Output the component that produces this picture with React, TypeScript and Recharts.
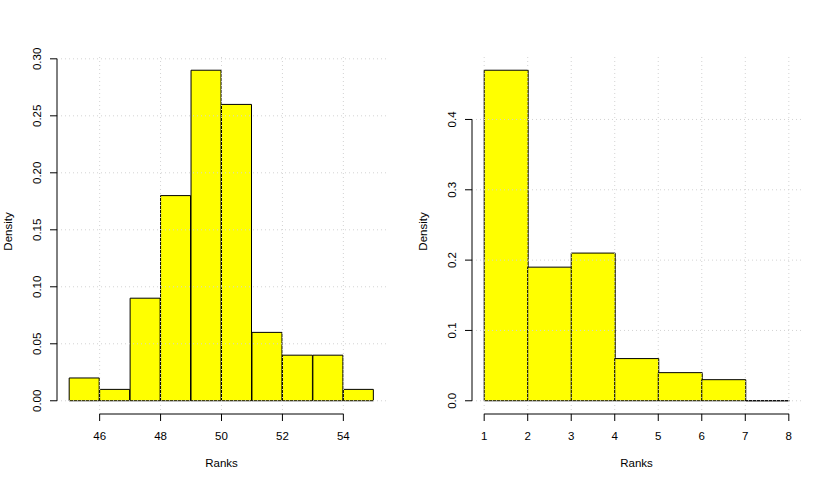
import React from 'react';
import {
  ComposedChart,
  Bar,
  XAxis,
  YAxis,
  ReferenceLine
} from 'recharts';

// ---- data ----
const leftBinStarts = [45, 46, 47, 48, 49, 50, 51, 52, 53, 54];
const leftDensity = [0.02, 0.01, 0.09, 0.18, 0.29, 0.26, 0.06, 0.04, 0.04, 0.01];
const leftXTicks = [46, 48, 50, 52, 54];
const leftYTicks = [0, 0.05, 0.1, 0.15, 0.2, 0.25, 0.3];

const rightBinStarts = [1, 2, 3, 4, 5, 6, 7];
const rightDensity = [0.47, 0.19, 0.21, 0.06, 0.04, 0.03, 0];
const rightXTicks = [1, 2, 3, 4, 5, 6, 7, 8];
const rightYTicks = [0, 0.1, 0.2, 0.3, 0.4];

const binWidth = 1;
const xLabel = 'Ranks';
const yLabel = 'Density';

const FONT = '"Liberation Sans", Arial, Helvetica, sans-serif';
const FS = 11.5;
const W = 415;
const H = 485;
const GRID = '#d3d3d3';

// R style histogram bar, drawn even when the height is 0
const HistRect = (props: any) => {
  const { x, y, width, height } = props;
  const h = height || 0;
  return (
    <path
      d={`M${x},${y + h}V${y}H${x + width}V${y + h}Z`}
      fill="#ffff00"
      stroke="#000"
      strokeWidth={1}
    />
  );
};

function HistPanel({ starts, dens, xTicks, yTicks, digits }: any) {
  const data = starts.map((s: number, i: number) => ({
    mid: s + binWidth / 2,
    density: dens[i]
  }));

  // R default axis range: data range + 4%
  const xMin = starts[0];
  const xMax = starts[starts.length - 1] + binWidth;
  const yMax = Math.max(...dens);
  const xPad = (xMax - xMin) * 0.04;
  const yPad = yMax * 0.04;
  const xDomain = [xMin - xPad, xMax + xPad];
  const yDomain = [-yPad, yMax + yPad];

  const XTick = (p: any) => (
    <text x={p.x} y={p.y + 19} textAnchor="middle" fontSize={FS} fontFamily={FONT} fill="#000">
      {p.payload.value}
    </text>
  );

  const YTick = (p: any) => {
    const tx = p.x - 8.5;
    return (
      <text
        x={tx}
        y={p.y}
        transform={`rotate(-90 ${tx} ${p.y})`}
        textAnchor="middle"
        fontSize={FS}
        fontFamily={FONT}
        fill="#000"
      >
        {Number(p.payload.value).toFixed(digits)}
      </text>
    );
  };

  const XLab = (p: any) => {
    const vb = p.viewBox;
    return (
      <text x={vb.x + vb.width / 2} y={vb.y + 53} textAnchor="middle" fontSize={FS} fontFamily={FONT} fill="#000">
        {xLabel}
      </text>
    );
  };

  const YLab = (p: any) => {
    const vb = p.viewBox;
    const tx = vb.x + vb.width - 45;
    const ty = vb.y + vb.height / 2 - 4;
    return (
      <text
        x={tx}
        y={ty}
        transform={`rotate(-90 ${tx} ${ty})`}
        textAnchor="middle"
        fontSize={FS}
        fontFamily={FONT}
        fill="#000"
      >
        {yLabel}
      </text>
    );
  };

  return (
    <ComposedChart
      width={W}
      height={H}
      data={data}
      margin={{ top: 57, right: 29, bottom: 0, left: 0 }}
      barCategoryGap={0}
      barGap={0}
    >
      <XAxis
        type="number"
        dataKey="mid"
        domain={xDomain}
        ticks={xTicks}
        allowDataOverflow
        interval={0}
        height={71}
        axisLine={false}
        tickLine={{ stroke: '#000' }}
        tickSize={7}
        tickMargin={0}
        tick={XTick}
        label={{ content: XLab }}
      />
      <YAxis
        type="number"
        domain={yDomain}
        ticks={yTicks}
        allowDataOverflow
        interval={0}
        width={57}
        axisLine={false}
        tickLine={{ stroke: '#000' }}
        tickSize={7}
        tickMargin={0}
        tick={YTick}
        label={{ content: YLab }}
      />
      <Bar
        dataKey="density"
        fill="#ffff00"
        stroke="#000"
        shape={HistRect}
        isAnimationActive={false}
      />
      {/* grid() at the tick values, drawn over the bars as in R */}
      {xTicks.map((t: number) => (
        <ReferenceLine key={'gx' + t} x={t} stroke={GRID} strokeDasharray="1 3" />
      ))}
      {yTicks.map((t: number) => (
        <ReferenceLine key={'gy' + t} y={t} stroke={GRID} strokeDasharray="1 3" />
      ))}
      {/* axis lines only span the tick range, like base R */}
      <ReferenceLine
        segment={[
          { x: xDomain[0], y: yTicks[0] },
          { x: xDomain[0], y: yTicks[yTicks.length - 1] }
        ]}
        stroke="#000"
        ifOverflow="visible"
      />
      <ReferenceLine
        segment={[
          { x: xTicks[0], y: yDomain[0] },
          { x: xTicks[xTicks.length - 1], y: yDomain[0] }
        ]}
        stroke="#000"
        ifOverflow="visible"
      />
    </ComposedChart>
  );
}

export default function App() {
  return (
    <div style={{ width: 830, height: 485, display: 'flex', background: '#fff' }}>
      <style>{'body{margin:0}'}</style>
      <HistPanel starts={leftBinStarts} dens={leftDensity} xTicks={leftXTicks} yTicks={leftYTicks} digits={2} />
      <HistPanel starts={rightBinStarts} dens={rightDensity} xTicks={rightXTicks} yTicks={rightYTicks} digits={1} />
    </div>
  );
}
